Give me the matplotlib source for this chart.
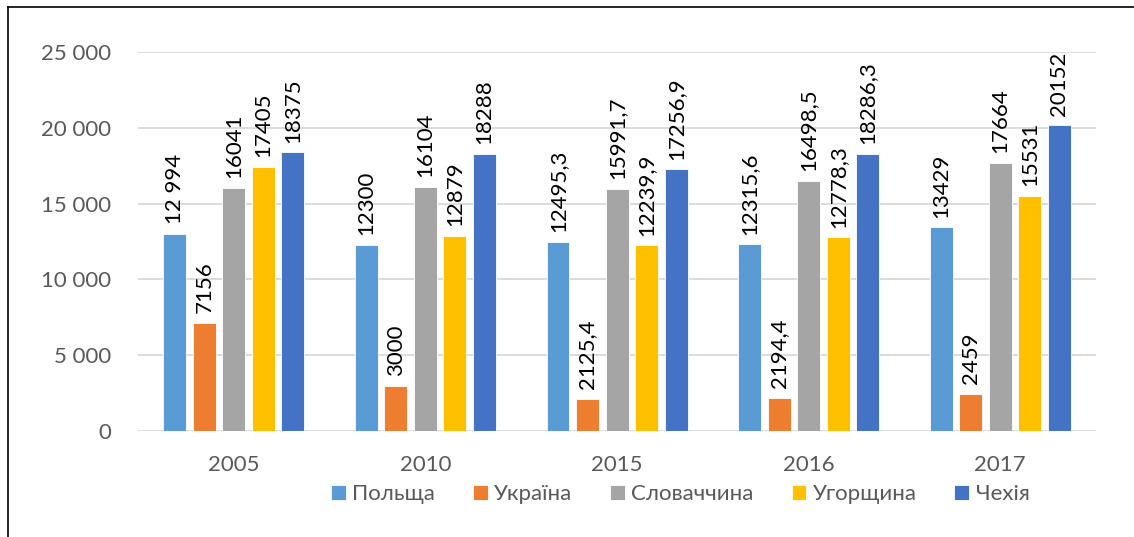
import numpy as np
import matplotlib.pyplot as plt
from matplotlib.lines import Line2D

years = ['2005', '2010', '2015', '2016', '2017']
countries = ['Польща', 'Україна', 'Словаччина', 'Угорщина', 'Чехія']
colors = ['#5B9BD5', '#ED7D31', '#A5A5A5', '#FFC000', '#4472C4']

poland = [12994, 12300, 12495.3, 12315.6, 13429]
ukraine = [7156, 3000, 2125.4, 2194.4, 2459]
slovakia = [16041, 16104, 15991.7, 16498.5, 17664]
hungary = [17405, 12879, 12239.9, 12778.3, 15531]
czechia = [18375, 18288, 17256.9, 18286.3, 20152]

poland_lbl = ['12 994', '12300', '12495,3', '12315,6', '13429']
ukraine_lbl = ['7156', '3000', '2125,4', '2194,4', '2459']
slovakia_lbl = ['16041', '16104', '15991,7', '16498,5', '17664']
hungary_lbl = ['17405', '12879', '12239,9', '12778,3', '15531']
czechia_lbl = ['18375', '18288', '17256,9', '18286,3', '20152']

yticks = [0, 5000, 10000, 15000, 20000, 25000]
ytick_lbl = ['0', '5 000', '10 000', '15 000', '20 000', '25 000']

series = [poland, ukraine, slovakia, hungary, czechia]
labels = [poland_lbl, ukraine_lbl, slovakia_lbl, hungary_lbl, czechia_lbl]

plt.rcParams['font.family'] = ['Lato', 'DejaVu Sans']

fig = plt.figure(figsize=(11.34, 5.37), dpi=100)
ax = fig.add_axes([0.1217, 0.1974, 0.8448, 0.7058])

x = np.arange(len(years))
pitch = 0.154
width = 0.12
for i, (vals, lbls) in enumerate(zip(series, labels)):
    pos = x + (i - 2) * pitch
    ax.bar(pos, vals, width=width, color=colors[i], label=countries[i],
           edgecolor='white', linewidth=0.6, zorder=3)
    for px, v, t in zip(pos, vals, lbls):
        ax.annotate(t, (px, v), xytext=(0, 7), textcoords='offset points',
                    rotation=90, ha='center', va='bottom', fontsize=16,
                    color='black', zorder=4)

ax.set_xlim(-0.5, len(years) - 0.5)
ax.set_ylim(0, 25000)
ax.set_yticks(yticks)
ax.set_yticklabels(ytick_lbl)
ax.set_xticks(x)
ax.set_xticklabels(years)
ax.tick_params(axis='both', length=0, labelsize=16, labelcolor='#595959')
ax.tick_params(axis='y', pad=19)
ax.tick_params(axis='x', pad=17)
ax.grid(axis='y', color='#D9D9D9', linewidth=1.3, zorder=0)
for s in ax.spines.values():
    s.set_visible(False)

ax.legend(loc='center', bbox_to_anchor=(0.6, 0.08), bbox_transform=fig.transFigure,
          ncol=5, frameon=False, fontsize=16, labelcolor='#595959',
          handlelength=0.65, handleheight=0.65, handletextpad=0.3,
          columnspacing=1.7)

# chart frame (left and top edges visible)
fig.add_artist(Line2D([8 / 1134, 8 / 1134], [0, 1 - 7 / 537], color='black', linewidth=1.2))
fig.add_artist(Line2D([8 / 1134, 1], [1 - 7 / 537, 1 - 7 / 537], color='black', linewidth=1.2))

fig.savefig('out.png', dpi=100)
